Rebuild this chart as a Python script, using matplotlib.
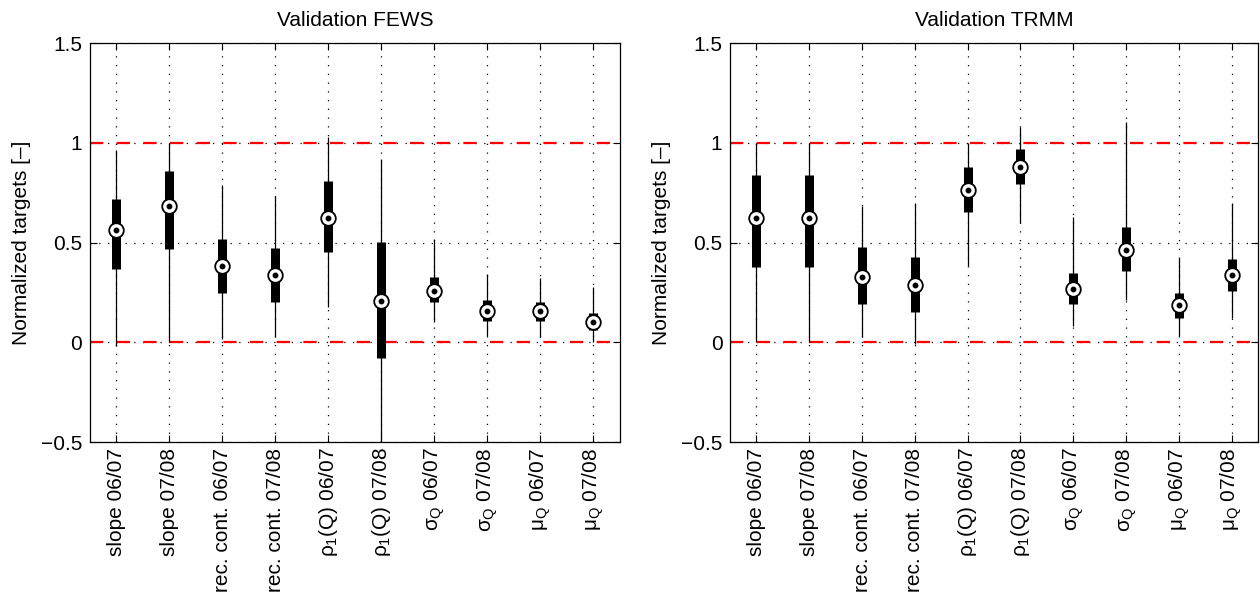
import matplotlib
matplotlib.use('Agg')
import matplotlib.pyplot as plt
import numpy as np

plt.rcParams['font.family'] = ['Liberation Sans', 'DejaVu Sans']
plt.rcParams['mathtext.fontset'] = 'custom'
plt.rcParams['mathtext.rm'] = 'Liberation Sans'
plt.rcParams['mathtext.it'] = 'Liberation Sans'
plt.rcParams['mathtext.bf'] = 'Liberation Sans:bold'

labels = ['slope 06/07', 'slope 07/08', 'rec. cont. 06/07', 'rec. cont. 07/08',
          r'$\rho_1$(Q) 06/07', r'$\rho_1$(Q) 07/08', r'$\sigma_Q$ 06/07',
          r'$\sigma_Q$ 07/08', r'$\mu_Q$ 06/07', r'$\mu_Q$ 07/08']

# FEWS: whisker low, box low, median, box high, whisker high
fews_wlo = [-0.02, 0.0, 0.018, 0.027, 0.177, -0.5, 0.102, 0.03, 0.027, 0.0]
fews_q1 = [0.368, 0.468, 0.248, 0.203, 0.453, -0.078, 0.2, 0.108, 0.108, 0.06]
fews_med = [0.565, 0.685, 0.385, 0.338, 0.623, 0.207, 0.258, 0.155, 0.155, 0.102]
fews_q3 = [0.718, 0.86, 0.518, 0.472, 0.81, 0.505, 0.327, 0.213, 0.203, 0.148]
fews_whi = [0.963, 1.0, 0.788, 0.735, 1.03, 0.918, 0.518, 0.343, 0.323, 0.277]

# TRMM
trmm_wlo = [0.0, 0.0, 0.027, -0.01, 0.385, 0.597, 0.08, 0.21, 0.032, 0.123]
trmm_q1 = [0.38, 0.38, 0.193, 0.15, 0.655, 0.793, 0.19, 0.358, 0.123, 0.255]
trmm_med = [0.622, 0.622, 0.33, 0.285, 0.765, 0.88, 0.267, 0.463, 0.185, 0.337]
trmm_q3 = [0.838, 0.838, 0.477, 0.428, 0.88, 0.968, 0.348, 0.58, 0.248, 0.42]
trmm_whi = [1.0, 1.0, 0.685, 0.697, 1.0, 1.082, 0.63, 1.107, 0.422, 0.697]

titles = ['Validation FEWS', 'Validation TRMM']
ref_lines = [0, 1]

fig = plt.figure(figsize=(12.6, 5.99), dpi=100)
ax1 = fig.add_axes([0.0714, 0.262, 0.4206, 0.666])
ax2 = fig.add_axes([0.5794, 0.262, 0.419, 0.666])

data = [(fews_wlo, fews_q1, fews_med, fews_q3, fews_whi),
        (trmm_wlo, trmm_q1, trmm_med, trmm_q3, trmm_whi)]

fs = 15
for ax, title, (wlo, q1, med, q3, whi) in zip([ax1, ax2], titles, data):
    x = np.arange(1, len(labels) + 1)
    ax.set_xlim(0.5, 10.5)
    ax.set_ylim(-0.5, 1.5)
    ax.set_yticks([-0.5, 0, 0.5, 1, 1.5])
    ax.set_yticklabels(['\u22120.5', '0', '0.5', '1', '1.5'])
    ax.set_xticks(x)
    ax.set_xticklabels(labels, rotation=90, fontsize=fs)
    ax.tick_params(axis='y', labelsize=fs, pad=5.5)
    ax.tick_params(axis='x', pad=4)
    ax.tick_params(direction='in', length=5, top=True, right=True, width=0.8)
    ax.grid(True, color='black', linestyle=(0, (1, 6)), linewidth=0.9)
    for sp in ax.spines.values():
        sp.set_linewidth(0.9)
    for r in ref_lines:
        ax.axhline(r, color='red', linestyle=(0, (6, 6)), linewidth=1.6, zorder=2)
    ax.vlines(x, wlo, whi, color='black', linewidth=0.9, zorder=3)
    ax.vlines(x, q1, q3, color='black', linewidth=6.5, zorder=4)
    ax.plot(x, med, linestyle='none', marker='o', markersize=10.5,
            markerfacecolor='white', markeredgecolor='black', markeredgewidth=1.3, zorder=5)
    ax.plot(x, med, linestyle='none', marker='o', markersize=3.2,
            color='black', zorder=6)
    ax.set_title(title, fontsize=fs, pad=12)
    ax.set_ylabel('Normalized targets [\u2013]', fontsize=fs, labelpad=7)

fig.savefig('out.png', dpi=100)
